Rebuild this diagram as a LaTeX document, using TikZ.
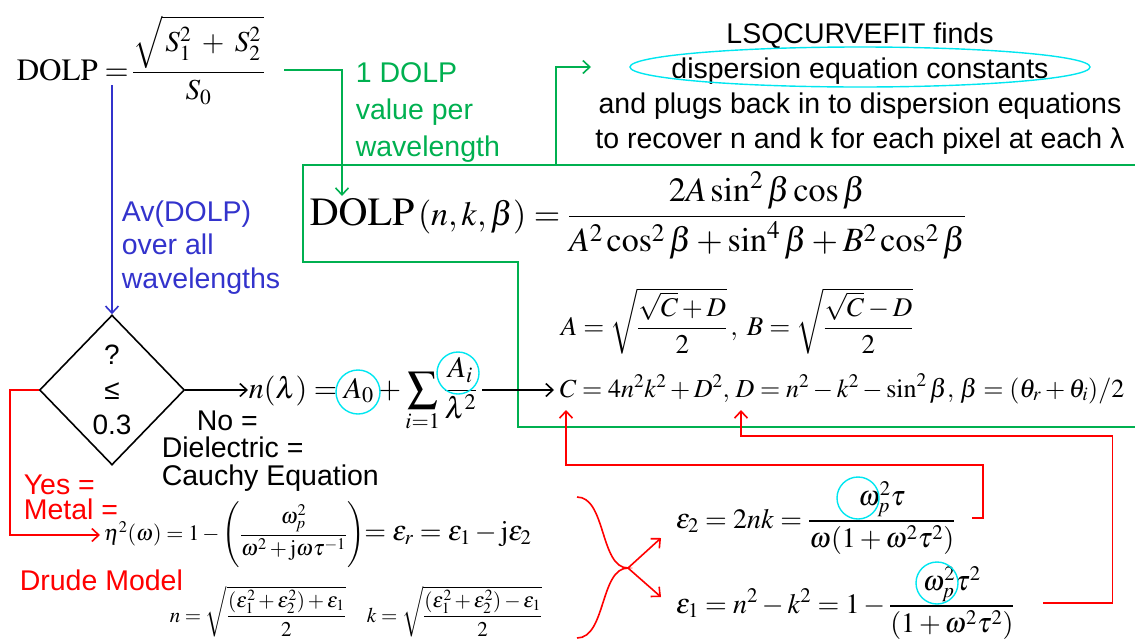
\documentclass[tikz,border=0pt]{standalone}
\usepackage{amsmath}
\usepackage{mathptmx}
\usepackage{fontspec}
\setmainfont{Liberation Serif}
\setsansfont{Liberation Sans}
\usetikzlibrary{arrows.meta,shapes.geometric,positioning}
\definecolor{dolpgreen}{RGB}{0,176,80}
\definecolor{avgblue}{RGB}{51,51,204}
\definecolor{fitcyan}{RGB}{0,230,240}

\begin{document}
\begin{tikzpicture}[x=1pt,y=-1pt,line width=1.6pt,
  lbl/.style={inner sep=0pt,align=left},
  eqn/.style={inner sep=0pt},
  tip/.style={-{Straight Barb[length=7pt,width=13pt]}},
  ring/.style={draw=fitcyan,line width=1.4pt}]
  \useasboundingbox (0,0) rectangle (1135,643);
  \node[eqn,anchor=base west] (dolp) at (16,80) {{\fontsize{31}{36}\selectfont$\mathrm{DOLP} =$}{\fontsize{29}{34}\selectfont$\,\dfrac{\sqrt{\,S_1^2\;+\;S_2^2\,}}{S_0}$}};
  \node[lbl,dolpgreen,anchor=north west,font=\sffamily\fontsize{28.5}{37}\selectfont] (perwl) at (355,62) {1 DOLP\\value per\\wavelength};
  \node[lbl,anchor=north,align=center,font=\sffamily\fontsize{28.5}{35}\selectfont] (lsq) at (860,22) {LSQCURVEFIT finds\\dispersion equation constants\\and plugs back in to dispersion equations\\to recover n and k for each pixel at each λ};
  \draw[ring] (860,67) ellipse [x radius=230,y radius=20];
  \node[eqn,anchor=base west] (dolpnk) at (309,225) {{\fontsize{40}{48}\selectfont$\mathrm{DOLP}$}{\fontsize{34}{42}\selectfont$\,(n,k,\beta) = \dfrac{2A\sin^2\beta\cos\beta}{A^2\cos^2\beta+\sin^4\beta+B^2\cos^2\beta}$}};
  \node[eqn,anchor=base west,font=\fontsize{27}{32}\selectfont] (abeq) at (560,335) {$A=\sqrt{\dfrac{\sqrt{C}+D}{2}}\,,\;B=\sqrt{\dfrac{\sqrt{C}-D}{2}}$};
  \node[eqn,anchor=base west,font=\fontsize{26}{30}\selectfont] (cdeq) at (559,397) {$C=4n^2k^2+D^2,\,D=n^2-k^2-\sin^2\beta,\,\beta=(\theta_r+\theta_i)/2$};
  \draw[dolpgreen] (1135,165) -- (303,165) -- (303,262) -- (518,262) -- (518,427) -- (1135,427);
  \coordinate (gout) at (556,165);
  \coordinate (gin) at (591,67);
  \coordinate (gbar) at (284,70);
  \coordinate (gnk) at (342,196);
  \draw[dolpgreen,tip] (gbar) -| (gnk);
  \draw[dolpgreen,tip] (gout) |- (gin);
  \node[draw,diamond,minimum width=145pt,minimum height=150pt,inner sep=0pt,align=center,font=\sffamily\fontsize{28}{35}\selectfont] (test) at (112,390) {?\\≤\\0.3};
  \coordinate (bstart) at (112,85);
  \draw[avgblue,tip] (bstart) -- (test.north);
  \node[lbl,avgblue,anchor=north west,font=\sffamily\fontsize{28.5}{33.5}\selectfont] (avg) at (121,200) {Av(DOLP)\\over all\\wavelengths};
  \node[eqn,anchor=base west,font=\fontsize{30}{36}\selectfont] (cauchy) at (248,398) {$n(\lambda)=A_0+\displaystyle\sum_{i=1}\frac{A_i}{\lambda^2}$};
  \draw[ring] (358,392) circle [radius=22];
  \draw[ring] (458,373) circle [radius=21];
  \draw[tip] (test.east) -- (test.east -| cauchy.west);
  \draw[tip,shorten <=4pt,shorten >=5pt] (test.east -| cauchy.east) -- (test.east -| cdeq.west);
  \node[lbl,anchor=north west,font=\sffamily\fontsize{28.5}{27.5}\selectfont] (diel) at (161,410) {\hspace*{35pt}No =\\Dielectric =\\Cauchy Equation};
  \node[lbl,red,anchor=north west,font=\sffamily\fontsize{28.5}{25}\selectfont] (metal) at (23,474) {Yes =\\Metal =};
  \node[lbl,red,anchor=north west,font=\sffamily\fontsize{28.5}{33}\selectfont] (drudelbl) at (19,569) {Drude Model};
  \node[eqn,anchor=west] (drude) at (103,535) {{\fontsize{22}{26}\selectfont$\eta^2(\omega)=1-\left(\dfrac{\omega_p^2}{\omega^2+\mathrm{j}\omega\tau^{-1}}\right)$}{\fontsize{28}{32}\selectfont$=\varepsilon_r=\varepsilon_1-\mathrm{j}\varepsilon_2$}};
  \draw[red,tip,shorten >=3pt] (test.west) -- ++(-29,0) |- (drude.west);
  \node[eqn,anchor=base west,font=\fontsize{21}{25}\selectfont] (nk) at (169,622) {$n=\sqrt{\dfrac{(\varepsilon_1^2+\varepsilon_2^2)+\varepsilon_1}{2}}\quad k=\sqrt{\dfrac{(\varepsilon_1^2+\varepsilon_2^2)-\varepsilon_1}{2}}$};
  \node[eqn,anchor=base west,font=\fontsize{28}{32}\selectfont] (eps2) at (675,528) {$\varepsilon_2=2nk=\dfrac{\omega_p^2\tau}{\omega(1+\omega^2\tau^2)}$};
  \node[eqn,anchor=base west,font=\fontsize{28}{32}\selectfont] (eps1) at (675,613) {$\varepsilon_1=n^2-k^2=1-\dfrac{\omega_p^2\tau^2}{(1+\omega^2\tau^2)}$};
  \draw[ring] (858,498) circle [radius=21];
  \draw[ring] (937,583) circle [radius=21];
  \coordinate (split) at (628,568);
  \coordinate (e2in) at (661,538);
  \coordinate (e1in) at (661,597);
  \draw[red] (577,497) .. controls (606,497) and (600,568) .. (split) .. controls (600,568) and (606,638) .. (577,638);
  \draw[red,tip] (split) -- (e2in);
  \draw[red,tip] (split) -- (e1in);
  \coordinate (cin) at (566,410);
  \coordinate (din) at (741,410);
  \draw[red,tip] ([xshift=16pt]eps2.east) -- ++(11,0) -- ++(0,-53) -| (cin);
  \draw[red,tip] ([xshift=28pt]eps1.east) -- ++(69,0) -- ++(0,-167) -| (din);
\end{tikzpicture}
\end{document}
